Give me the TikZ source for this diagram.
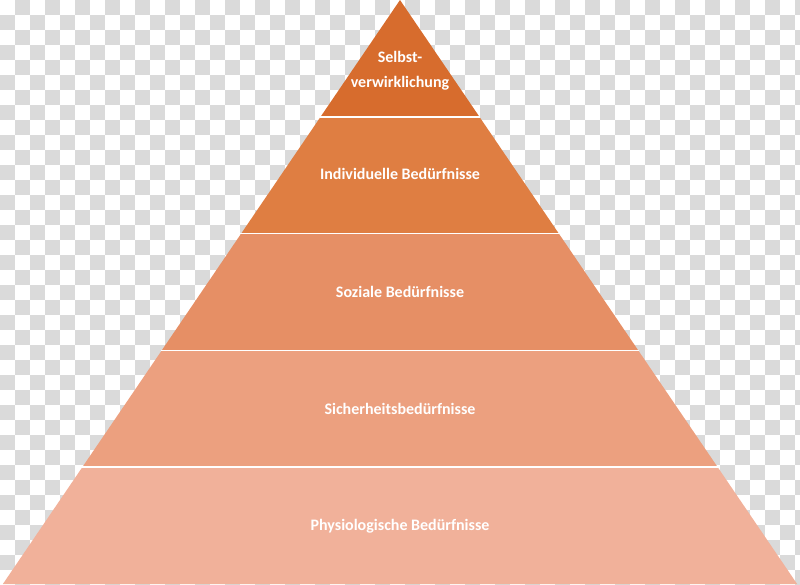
\documentclass[tikz,border=0pt]{standalone}
\usepackage{fontspec}
\setmainfont{Carlito}
\definecolor{checker}{RGB}{218,218,218}
\definecolor{tierA}{RGB}{215,108,45}
\definecolor{tierB}{RGB}{223,126,66}
\definecolor{tierC}{RGB}{230,143,101}
\definecolor{tierD}{RGB}{236,160,127}
\definecolor{tierE}{RGB}{241,177,154}

\begin{document}
\begin{tikzpicture}[x=1pt,y=-1pt,
    tiertext/.style={text=white,font=\bfseries\fontsize{16}{25}\selectfont,align=center},
    tiersep/.style={draw=white,line width=1.6pt}]
  \useasboundingbox (0,0) rectangle (800,584);
  \clip (0,0) rectangle (800,584);
  % background
  \foreach \i in {0,...,53}
    \foreach \j in {0,...,38}{
      \pgfmathtruncatemacro\odd{mod(\i+\j,2)}
      \ifnum\odd=1 \fill[checker] (15*\i,15*\j) rectangle +(15,15); \fi
    }
  % tiers
  \foreach \k/\col in {0/tierA,1/tierB,2/tierC,3/tierD,4/tierE}{
    \pgfmathsetmacro\ya{116.8*\k}
    \pgfmathsetmacro\yb{116.8*(\k+1)}
    \fill[\col] ({400-0.68*\ya},\ya) -- ({400+0.68*\ya},\ya)
      -- ({400+0.68*\yb},\yb) -- ({400-0.68*\yb},\yb) -- cycle;
  }
  \foreach \k in {1,...,4}{
    \pgfmathsetmacro\ys{116.8*\k}
    \draw[tiersep] ({399-0.68*\ys},\ys) -- ({401+0.68*\ys},\ys);
  }
  \node[tiertext] (selbst) at (400,71) {Selbst-\\verwirklichung};
  \node[tiertext] (indiv) at (400,174) {Individuelle Bedürfnisse};
  \node[tiertext] (sozial) at (400,292) {Soziale Bedürfnisse};
  \node[tiertext] (sicher) at (400,409) {Sicherheitsbedürfnisse};
  \node[tiertext] (physio) at (400,526) {Physiologische Bedürfnisse};
\end{tikzpicture}
\end{document}
